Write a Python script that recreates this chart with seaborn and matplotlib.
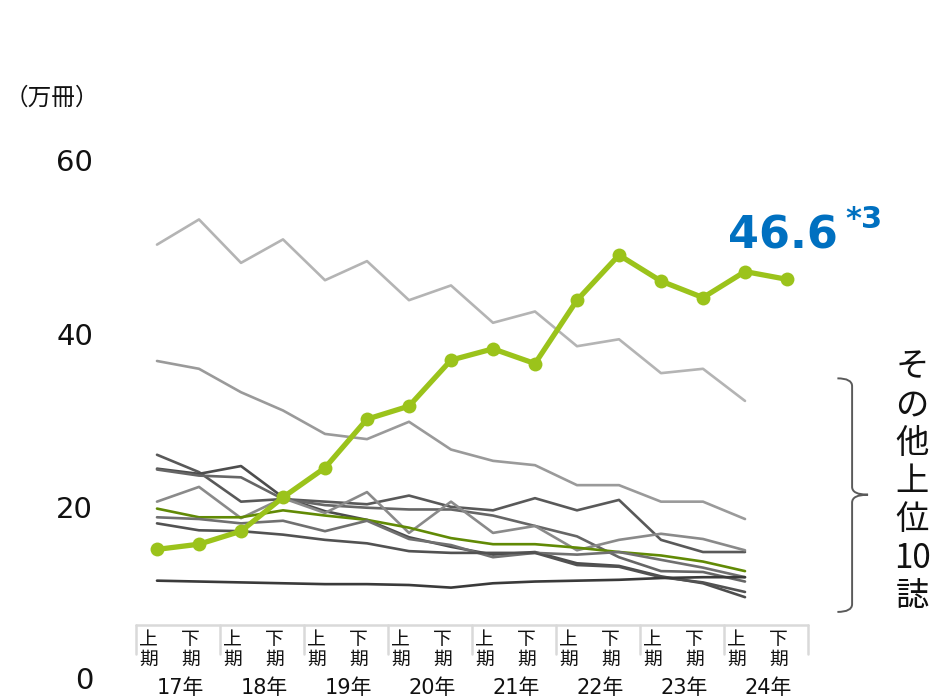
import numpy as np
import pandas as pd
import matplotlib
matplotlib.use("Agg")
import matplotlib.pyplot as plt
from matplotlib.path import Path
from matplotlib.patches import PathPatch
import seaborn as sns

# ---- data -------------------------------------------------------------
years = ["17年", "18年", "19年", "20年", "21年", "22年", "23年", "24年"]
halves = ["上\n期", "下\n期"]
y_ticks = [0, 20, 40, 60]

# main title (万冊), 17上 .. 24下
main_values = [15.5, 16.1, 17.6, 21.5, 24.9, 30.5, 32.0, 37.3,
               38.6, 36.9, 44.2, 49.4, 46.4, 44.5, 47.5, 46.6]

# other top-10 magazines, 17上 .. 24上
mag_01 = [50.6, 53.5, 48.5, 51.2, 46.5, 48.7, 44.2, 45.9, 41.6, 42.9, 38.9, 39.7, 35.8, 36.3, 32.6]
mag_02 = [37.2, 36.3, 33.6, 31.5, 28.8, 28.2, 30.2, 27.0, 25.7, 25.2, 22.9, 22.9, 21.0, 21.0, 19.0]
mag_03 = [26.4, 24.4, 21.0, 21.3, 21.0, 20.7, 21.7, 20.4, 20.0, 21.4, 20.0, 21.2, 16.6, 15.2, 15.2]
mag_04 = [24.8, 24.2, 25.1, 21.5, 19.9, 18.9, 16.9, 15.8, 14.9, 15.2, 13.9, 13.6, 12.4, 11.6, 10.0]
mag_05 = [24.7, 24.0, 23.8, 21.3, 20.6, 20.3, 20.1, 20.1, 19.4, 18.2, 17.0, 14.6, 13.0, 12.9, 11.8]
mag_06 = [21.0, 22.7, 19.1, 21.4, 19.7, 22.1, 17.4, 21.0, 17.4, 18.2, 15.4, 16.6, 17.3, 16.7, 15.4]
mag_07 = [20.2, 19.2, 19.2, 20.0, 19.4, 18.9, 18.0, 16.8, 16.1, 16.1, 15.7, 15.2, 14.8, 14.1, 13.0]
mag_08 = [19.2, 19.0, 18.5, 18.8, 17.6, 18.8, 16.7, 16.0, 14.6, 15.1, 14.9, 15.2, 14.3, 13.4, 12.3]
mag_09 = [18.5, 17.7, 17.6, 17.2, 16.6, 16.2, 15.3, 15.1, 15.1, 15.1, 13.7, 13.5, 12.3, 11.7, 10.6]
mag_10 = [11.9, 11.8, 11.7, 11.6, 11.5, 11.5, 11.4, 11.1, 11.6, 11.8, 11.9, 12.0, 12.2, 12.3, 12.3]

others = {"m01": mag_01, "m02": mag_02, "m03": mag_03, "m04": mag_04, "m05": mag_05,
          "m06": mag_06, "m07": mag_07, "m08": mag_08, "m09": mag_09, "m10": mag_10}
other_colors = {"m01": "#b4b4b4", "m02": "#9a9a9a", "m03": "#595959", "m04": "#4d4d4d",
                "m05": "#666666", "m06": "#8a8a8a", "m07": "#618a05", "m08": "#707070",
                "m09": "#525252", "m10": "#3a3a3a"}

n_periods = len(years) * len(halves)
rows = []
for name, vals in others.items():
    for i, v in enumerate(vals):
        rows.append({"series": name, "pos": i, "value": v})
df_others = pd.DataFrame(rows)
df_main = pd.DataFrame({"pos": np.arange(n_periods), "value": main_values})

# ---- figure -----------------------------------------------------------
sns.set_theme(style="white")
plt.rcParams["font.family"] = ["DejaVu Sans", "Noto Sans CJK JP"]

W, H = 939, 698
fig = plt.figure(figsize=(W / 100, H / 100), dpi=100)
step = 42.0            # px per period
x0_px, y0_px, y60_px = 157.0, 684.0, 163.0
xlim = (-0.9, 15.5)
ax = fig.add_axes([(x0_px + xlim[0] * step) / W, (H - y0_px) / H,
                   (xlim[1] - xlim[0]) * step / W, (y0_px - y60_px) / H])
ax.set_xlim(*xlim)
ax.set_ylim(0, 60)

sns.lineplot(data=df_others, x="pos", y="value", hue="series", palette=other_colors,
             linewidth=1.9, legend=False, ax=ax, sort=False)
sns.lineplot(data=df_main, x="pos", y="value", color="#9bc31b", linewidth=3.8,
             marker="o", markersize=10, markeredgewidth=0, legend=False, ax=ax)

for s in ax.spines.values():
    s.set_visible(False)
ax.set_xlabel("")
ax.set_ylabel("")
ax.set_xticks([])
ax.set_yticks([])
ax.grid(False)

# value axis labels (the bottom one nudged up so it stays inside the canvas)
for v in y_ticks:
    ax.text(-1.52, v + (0.35 if v == 0 else 0), str(v), fontsize=21, color="#111111",
            ha="right", va="center")

# unit label
ax.text(-3.64, 67.5, "（万冊）", fontsize=17, color="#111111", ha="left", va="center",
        family=["Noto Sans CJK JP"])

# category axis box
axis_col = "#d9d9d9"
y_top, y_bot = 6.85, 3.4
ax.plot([-0.5, n_periods - 0.5], [y_top, y_top], color=axis_col, lw=1.8, clip_on=False)
for k in range(len(years) + 1):
    xb = -0.5 + 2 * k
    ax.plot([xb, xb], [y_top, y_bot], color=axis_col, lw=1.8, clip_on=False)

for i in range(n_periods):
    ax.text(i - 0.2, 3.95, halves[i % 2], fontsize=13.5, ha="center", va="center",
            linespacing=0.95, color="#111111", family=["Noto Sans CJK JP"])
for k, y in enumerate(years):
    ax.text(2 * k + 0.55, -0.45, y, fontsize=15, ha="center", va="center", color="#111111")

# value callout
ax.text(13.6, 50.2, "46.6", fontsize=32, fontweight="bold", color="#0070c0",
        ha="left", va="baseline")
ax.text(16.38, 55.2, "*3", fontsize=22, fontweight="bold", color="#0070c0",
        ha="left", va="top")

# curly brace for the other magazines
bx0, bx1, bx2 = 16.2, 16.55, 16.93
top, mid, bot = 35.2, 21.8, 8.3
verts = [(bx0, top), (bx1, top), (bx1, top - 0.9),
         (bx1, mid + 0.9),
         (bx1, mid), (bx2, mid),
         (bx1, mid), (bx1, mid - 0.9),
         (bx1, bot + 0.9),
         (bx1, bot), (bx0, bot)]
codes = [Path.MOVETO, Path.CURVE3, Path.CURVE3,
         Path.LINETO,
         Path.CURVE3, Path.CURVE3,
         Path.CURVE3, Path.CURVE3,
         Path.LINETO,
         Path.CURVE3, Path.CURVE3]
ax.add_patch(PathPatch(Path(verts, codes), facecolor="none", edgecolor="#5a5a5a",
                       lw=1.4, clip_on=False))

ax.text(17.98, 23.3, "そ\nの\n他\n上\n位\n10\n誌", fontsize=24, ha="center", va="center",
        linespacing=1.12, color="#111111", family=["Noto Sans CJK JP"])

fig.savefig("out.png", dpi=100, facecolor="white")
